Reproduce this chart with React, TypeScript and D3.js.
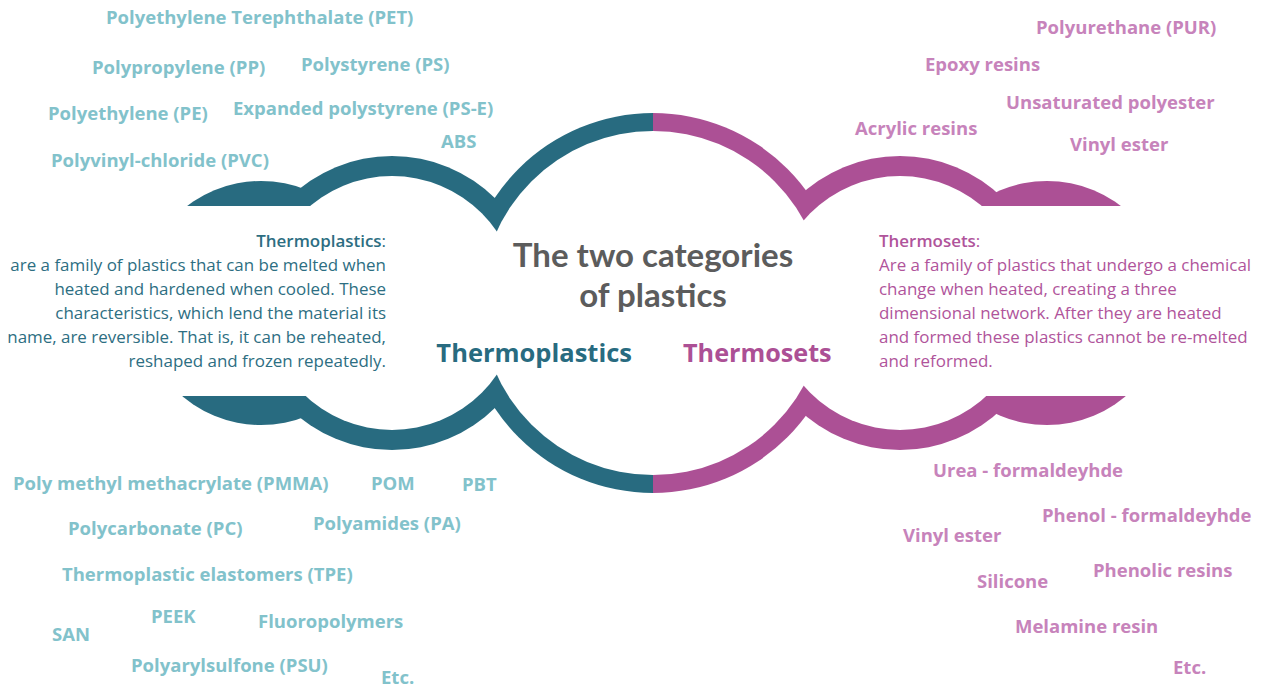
import React, { useRef, useEffect } from "react";
import * as d3 from "d3";

// ---- data ----
const thermoplastics = [
  "Polyethylene Terephthalate (PET)",
  "Polypropylene (PP)",
  "Polystyrene (PS)",
  "Polyethylene (PE)",
  "Expanded polystyrene (PS-E)",
  "ABS",
  "Polyvinyl-chloride (PVC)",
  "Poly methyl methacrylate (PMMA)",
  "POM",
  "PBT",
  "Polycarbonate (PC)",
  "Polyamides (PA)",
  "Thermoplastic elastomers (TPE)",
  "PEEK",
  "Fluoropolymers",
  "SAN",
  "Polyarylsulfone (PSU)",
  "Etc.",
];

const thermosets = [
  "Polyurethane (PUR)",
  "Epoxy resins",
  "Unsaturated polyester",
  "Acrylic resins",
  "Vinyl ester",
  "Urea - formaldeyhde",
  "Phenol - formaldeyhde",
  "Vinyl ester",
  "Phenolic resins",
  "Silicone",
  "Melamine resin",
  "Etc.",
];

const titleLines = ["The two categories", "of plastics"];
const categories = ["Thermoplastics", "Thermosets"];

const thermoplasticsText = [
  "are a family of plastics that can be melted when",
  "heated and hardened when cooled. These",
  "characteristics, which lend the material its",
  "name, are reversible. That is, it can be reheated,",
  "reshaped and frozen repeatedly.",
];

const thermosetsText = [
  "Are a family of plastics that undergo a chemical",
  "change when heated, creating a three",
  "dimensional network. After they are heated",
  "and formed these plastics cannot be re-melted",
  "and reformed.",
];

// ---- layout (word cloud anchors, left x / baseline y) ----
const thermoplasticsLayout: [number, number][] = [
  [106, 24], [92, 74], [301, 71], [48, 120], [233, 115], [441, 148], [51, 167],
  [13, 490], [371, 490], [462, 491], [68, 535], [313, 530], [62, 581],
  [151, 623], [258, 628], [52, 641], [131, 672], [381, 684],
];
const thermosetsLayout: [number, number][] = [
  [1036, 34], [925, 71], [1006, 109], [855, 135], [1070, 151],
  [933, 477], [1042, 522], [903, 542], [1093, 577], [977, 588], [1015, 633], [1173, 674],
];

// cloud lobes: offset from centre, outer radius, inner radius
const lobes = [
  { dx: 0, outer: 190, inner: 172 },
  { dx: -261, outer: 147, inner: 127 },
  { dx: 247, outer: 147, inner: 127 },
  { dx: -392, outer: 122, inner: 0 },
  { dx: 394, outer: 122, inner: 0 },
];

const TEAL = "#286b80";
const MAGENTA = "#ac5095";
const TEAL_LIGHT = "#82c2cb";
const MAGENTA_LIGHT = "#c783bb";
const FONT = "'Open Sans', 'Fira Sans', sans-serif";
const TITLE_FONT = "Lato, 'Fira Sans', sans-serif";

const App = () => {
  const svgRef = useRef<SVGSVGElement>(null);

  useEffect(() => {
    if (!svgRef.current) return;
    const width = 1264;
    const height = 688;
    const cx = 653;
    const cy = 303;

    const svg = d3.select(svgRef.current);
    svg.selectAll("*").remove();
    svg.attr("width", width).attr("height", height);

    // mask for the cloud ring
    const defs = svg.append("defs");
    const mask = defs.append("mask").attr("id", "cloud-mask");
    mask.append("rect").attr("width", width).attr("height", height).attr("fill", "black");
    mask
      .selectAll(".outer")
      .data(lobes)
      .enter()
      .append("circle")
      .attr("cx", (d) => cx + d.dx)
      .attr("cy", cy)
      .attr("r", (d) => d.outer)
      .attr("fill", "white");
    mask
      .selectAll(".inner")
      .data(lobes.filter((d) => d.inner > 0))
      .enter()
      .append("circle")
      .attr("cx", (d) => cx + d.dx)
      .attr("cy", cy)
      .attr("r", (d) => d.inner)
      .attr("fill", "black");
    // cut-outs for the side text blocks
    mask.append("rect").attr("x", 0).attr("y", 206).attr("width", cx - 261).attr("height", 190).attr("fill", "black");
    mask.append("rect").attr("x", cx + 247).attr("y", 206).attr("width", width - cx - 247).attr("height", 190).attr("fill", "black");

    const cloud = svg.append("g").attr("mask", "url(#cloud-mask)");
    cloud.append("rect").attr("x", 0).attr("y", 0).attr("width", cx).attr("height", height).attr("fill", TEAL);
    cloud.append("rect").attr("x", cx).attr("y", 0).attr("width", width - cx).attr("height", height).attr("fill", MAGENTA);

    // word clouds
    const labels = svg.append("g").style("font-family", FONT).style("font-weight", 700).style("font-size", "18.5px");
    labels
      .selectAll(".tp")
      .data(thermoplastics)
      .enter()
      .append("text")
      .attr("x", (_, i) => thermoplasticsLayout[i][0])
      .attr("y", (_, i) => thermoplasticsLayout[i][1])
      .style("fill", TEAL_LIGHT)
      .text((d) => d);
    labels
      .selectAll(".ts")
      .data(thermosets)
      .enter()
      .append("text")
      .attr("x", (_, i) => thermosetsLayout[i][0])
      .attr("y", (_, i) => thermosetsLayout[i][1])
      .style("fill", MAGENTA_LIGHT)
      .text((d) => d);

    // title
    svg
      .append("g")
      .selectAll("text")
      .data(titleLines)
      .enter()
      .append("text")
      .attr("x", cx)
      .attr("y", (_, i) => 267 + i * 40)
      .attr("text-anchor", "middle")
      .style("font-family", TITLE_FONT)
      .style("font-weight", 700)
      .style("font-size", "33px")
      .style("fill", "#5c5c5c")
      .text((d) => d);

    svg
      .append("text")
      .attr("x", cx - 21)
      .attr("y", 362)
      .attr("text-anchor", "end")
      .style("font-family", FONT)
      .style("font-weight", 700)
      .style("font-size", "25.5px")
      .style("fill", TEAL)
      .text(categories[0]);
    svg
      .append("text")
      .attr("x", cx + 30)
      .attr("y", 362)
      .style("font-family", FONT)
      .style("font-weight", 700)
      .style("font-size", "25.2px")
      .style("fill", MAGENTA)
      .text(categories[1]);

    // description blocks
    const leftBlock = svg
      .append("g")
      .style("font-family", FONT)
      .style("font-size", "16.95px")
      .style("fill", "#2d6e82")
      .attr("text-anchor", "end");
    const lh = leftBlock.append("text").attr("x", 386).attr("y", 247);
    lh.append("tspan").style("font-weight", 600).text(categories[0]);
    lh.append("tspan").text(":");
    leftBlock
      .selectAll(".line")
      .data(thermoplasticsText)
      .enter()
      .append("text")
      .attr("x", 386)
      .attr("y", (_, i) => 271 + i * 24)
      .text((d) => d);

    const rightBlock = svg
      .append("g")
      .style("font-family", FONT)
      .style("font-size", "16.95px")
      .style("fill", "#b0549b");
    const rh = rightBlock.append("text").attr("x", 879).attr("y", 247);
    rh.append("tspan").style("font-weight", 600).text(categories[1]);
    rh.append("tspan").text(":");
    rightBlock
      .selectAll(".line")
      .data(thermosetsText)
      .enter()
      .append("text")
      .attr("x", 879)
      .attr("y", (_, i) => 271 + i * 24)
      .text((d) => d);
  }, []);

  return <svg ref={svgRef} style={{ position: "absolute", left: 0, top: 0 }} />;
};

export default App;
